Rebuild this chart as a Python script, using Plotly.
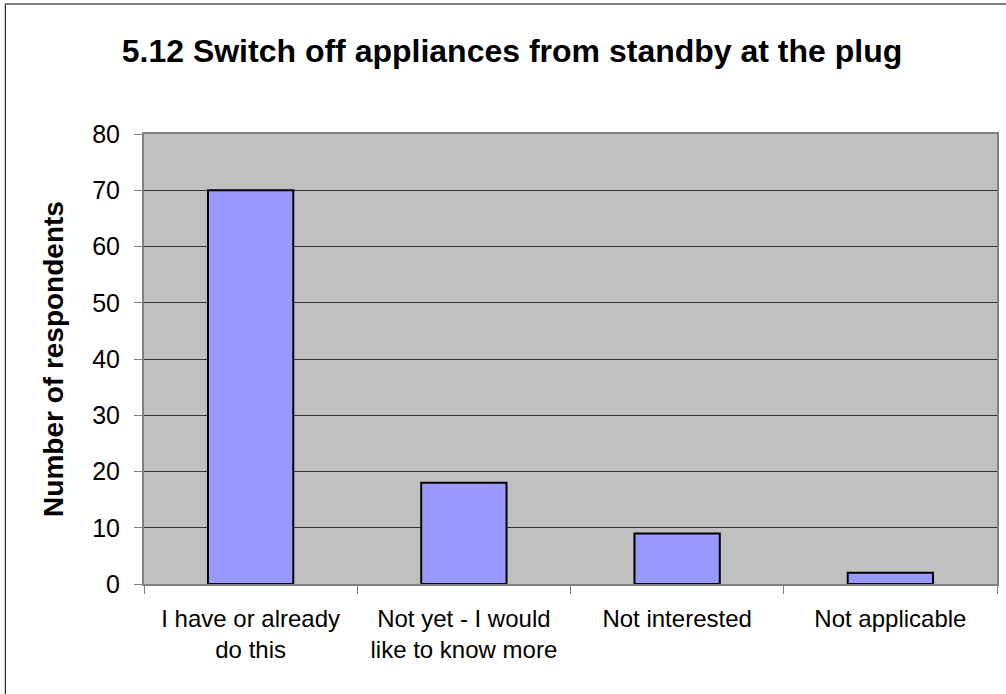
import plotly.graph_objects as go

categories = ["I have or already<br>do this", "Not yet - I would<br>like to know more", "Not interested", "Not applicable"]
values = [70, 18, 9, 2]
y_ticks = [0, 10, 20, 30, 40, 50, 60, 70, 80]

W, H = 1006, 694
L, R, T, B = 144, 7, 134, 110
pw, ph = W - L - R, H - T - B

fig = go.Figure(go.Bar(
    x=categories, y=values,
    marker=dict(color="#9999FF", line=dict(color="black", width=2)),
    width=0.4,
))

fig.update_layout(
    width=W, height=H,
    margin=dict(l=L, r=R, t=T, b=B),
    paper_bgcolor="white", plot_bgcolor="#C0C0C0",
    font=dict(family="Liberation Sans, Arial", color="black"),
    title=dict(text="<b>5.12 Switch off appliances from standby at the plug</b>",
               x=512 / W, xanchor="center", y=1 - 51 / H, yanchor="middle",
               font=dict(size=32, color="black")),
    showlegend=False,
    xaxis=dict(type="category", tickson="boundaries", ticks="outside", ticklen=8,
               tickcolor="#808080", showline=True, linecolor="#808080", linewidth=2,
               mirror=True, tickfont=dict(size=24), showgrid=False, ticklabelstandoff=12),
    yaxis=dict(range=[0, 80], tickvals=y_ticks, ticks="outside", ticklen=8,
               tickcolor="#808080", showline=True, linecolor="#808080", linewidth=2,
               mirror=True, showgrid=True, gridcolor="#333333", gridwidth=1,
               tickfont=dict(size=25), ticklabelstandoff=9,
               title=dict(text="<b>Number of respondents</b>", font=dict(size=28), standoff=20),
               zeroline=False),
    shapes=[dict(type="rect", xref="paper", yref="paper",
                 x0=(5 - L) / pw, x1=(1020 - L) / pw,
                 y0=(H - B - 710) / ph, y1=(H - B - 4) / ph,
                 line=dict(color="black", width=1), layer="below")],
)

fig.write_html("out.html", config={"displayModeBar": False},
               post_script="document.body.style.margin='0';")
